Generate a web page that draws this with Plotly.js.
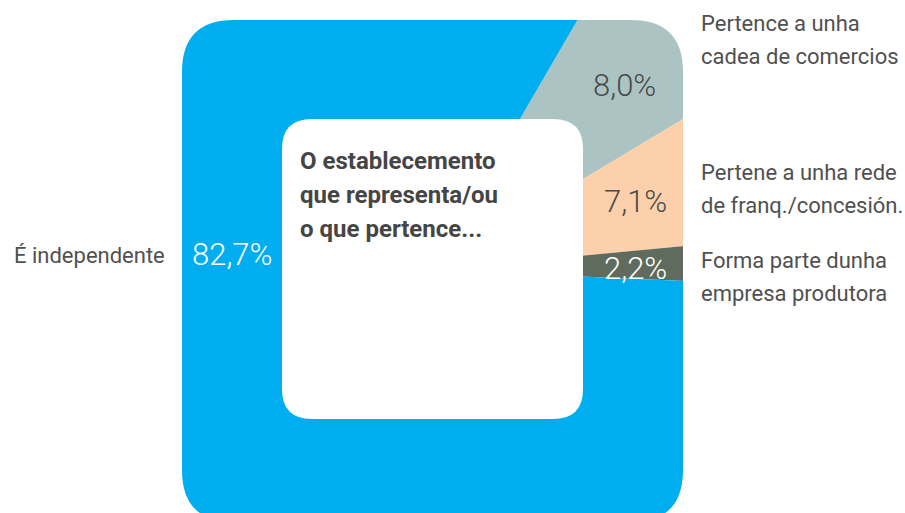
<!DOCTYPE html>
<html>
<head>
<meta charset="utf-8">
<script src="https://cdn.plot.ly/plotly-3.0.1.min.js"></script>
<style>
html,body{margin:0;padding:0;width:905px;height:513px;overflow:hidden;background:#fff;}
#chart{position:absolute;left:-68px;top:-130px;width:1000px;height:800px;}
</style>
</head>
<body>
<div id="chart"></div>
<script>
// ---- data ----
const categories = ["Pertence a unha cadea de comercios", "Pertene a unha rede de franq./concesión.", "Forma parte dunha empresa produtora", "É independente"];
const labelLines = [["Pertence a unha", "cadea de comercios"], ["Pertene a unha rede", "de franq./concesión."], ["Forma parte dunha", "empresa produtora"], ["É independente"]];
const values = [8.0, 7.1, 2.2, 82.7];
const valueLabels = ["8,0%", "7,1%", "2,2%", "82,7%"];
const sliceColors = ["#abc4c3", "#fdd0ac", "#5f6b5c", "#00aeef"];
const valueColors = ["#4a4a4a", "#4a4a4a", "#ffffff", "#ffffff"];
const centerTitle = ["O establecemento", "que representa/ou", "o que pertence..."];

// ---- page pixel -> paper coords (div is 1000x800 placed at -68,-130) ----
const OX = -68, OY = -130, W = 1000, H = 800;
const X = px => (px - OX) / W;
const Y = py => 1 - (py - OY) / H;

function roundRect(x0, y0, x1, y1, r) {
  const p = (x, y) => X(x).toFixed(5) + "," + Y(y).toFixed(5);
  return "M" + p(x0 + r, y0) + " L" + p(x1 - r, y0) + " Q" + p(x1, y0) + " " + p(x1, y0 + r) +
    " L" + p(x1, y1 - r) + " Q" + p(x1, y1) + " " + p(x1 - r, y1) +
    " L" + p(x0 + r, y1) + " Q" + p(x0, y1) + " " + p(x0, y1 - r) +
    " L" + p(x0, y0 + r) + " Q" + p(x0, y0) + " " + p(x0 + r, y0) + " Z";
}

const trace = {
  type: "pie",
  values: values,
  labels: categories,
  sort: false,
  direction: "clockwise",
  rotation: 30.2,
  marker: {colors: sliceColors, line: {width: 0}},
  textinfo: "none",
  hoverinfo: "skip",
  showlegend: false,
  domain: {x: [0, 1], y: [0, 1]}
};

const shapes = [
  {type: "path", xref: "paper", yref: "paper", fillrule: "evenodd",
   path: "M-0.1,-0.1 L1.1,-0.1 L1.1,1.1 L-0.1,1.1 Z " + roundRect(182, 20, 683, 522, 52),
   fillcolor: "#ffffff", line: {width: 0}, layer: "above"},
  {type: "path", xref: "paper", yref: "paper",
   path: roundRect(282, 119, 583, 419, 30),
   fillcolor: "#ffffff", line: {width: 0}, layer: "above"}
];

const labelFont = {family: "Roboto, sans-serif", size: 22, color: "#505050"};
const annotations = [];
function ann(text, x, y, xanchor, font) {
  annotations.push({text: text, x: X(x), y: Y(y), xref: "paper", yref: "paper",
    xanchor: xanchor, yanchor: "middle", showarrow: false, font: font});
}
// category labels
const labelPos = [[699, 23, 33], [699, 173, 33], [699, 260, 33], [167, 256, 0]];
labelLines.forEach((lines, i) => {
  lines.forEach((t, j) => {
    ann(t, labelPos[i][0], labelPos[i][1] + j * labelPos[i][2], i === 3 ? "right" : "left", labelFont);
  });
});
// value labels
const valuePos = [[624, 85], [635, 201], [635, 268], [232, 254]];
valueLabels.forEach((t, i) => {
  ann(t, valuePos[i][0], valuePos[i][1], "center",
    {family: "Roboto, sans-serif", size: 31, weight: 300, color: valueColors[i]});
});
// center title
centerTitle.forEach((t, j) => {
  ann(t, 298, 161 + j * 34, "left", {family: "Roboto, sans-serif", size: 24, weight: 700, color: "#454545"});
});

const layout = {
  width: W, height: H,
  margin: {l: 0, r: 0, t: 0, b: 0},
  paper_bgcolor: "#ffffff",
  plot_bgcolor: "#ffffff",
  showlegend: false,
  shapes: shapes,
  annotations: annotations
};

Plotly.newPlot("chart", [trace], layout, {staticPlot: true, displayModeBar: false});
</script>
</body>
</html>
